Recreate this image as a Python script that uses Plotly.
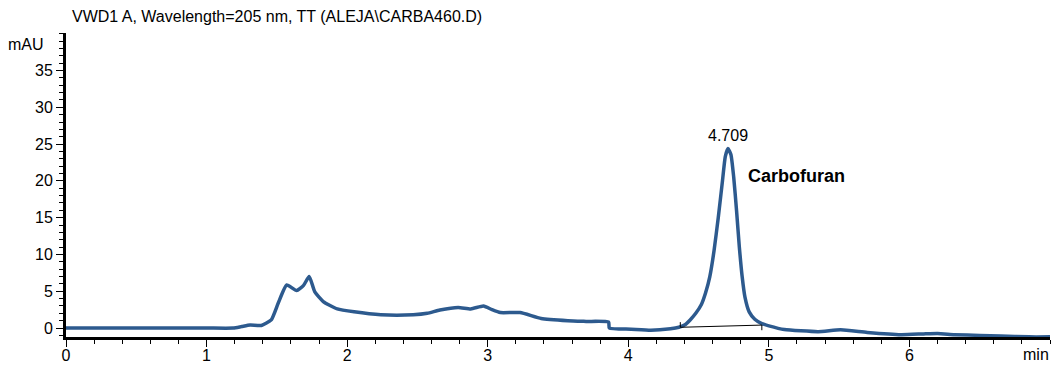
import plotly.graph_objects as go

# Retention time (min) and detector signal (mAU)
time_min = [0.00, 0.50, 1.00, 1.19, 1.25, 1.31, 1.39, 1.46, 1.51, 1.57, 1.64, 1.69, 1.73,
            1.77, 1.83, 1.93, 2.05, 2.24, 2.47, 2.57, 2.66, 2.79, 2.88, 2.97, 3.03, 3.09,
            3.23, 3.38, 3.57, 3.70, 3.86, 3.865, 4.02, 4.16, 4.30, 4.36, 4.40, 4.44, 4.48,
            4.52, 4.55, 4.58, 4.61, 4.64, 4.67, 4.69, 4.709, 4.73, 4.75, 4.77, 4.79, 4.81,
            4.83, 4.86, 4.90, 4.95, 5.00, 5.11, 5.35, 5.51, 5.70, 5.94, 6.10, 6.20, 6.32,
            6.50, 6.65, 6.85, 7.00]
signal_mau = [0.0, 0.0, 0.0, 0.0, 0.2, 0.4, 0.35, 1.1, 3.4, 5.85, 5.1, 5.8, 7.0,
              4.9, 3.6, 2.6, 2.2, 1.8, 1.8, 2.0, 2.45, 2.8, 2.6, 3.0, 2.5, 2.1,
              2.1, 1.3, 1.0, 0.9, 0.8, 0.0, -0.15, -0.3, -0.1, 0.1, 0.4, 1.1, 2.0,
              3.2, 4.8, 7.0, 10.5, 15.0, 20.0, 23.3, 24.4, 23.6, 20.5, 16.0, 11.0, 7.0,
              4.2, 2.2, 1.2, 0.6, 0.3, -0.2, -0.5, -0.25, -0.6, -0.9, -0.8, -0.75, -0.9,
              -1.0, -1.1, -1.2, -1.2]

# Integration baseline under the main peak
baseline_x = [4.37, 4.95]
baseline_y = [0.1, 0.4]

peak_rt = 4.709
peak_height = 24.4
compound = "Carbofuran"

x_ticks = [0, 1, 2, 3, 4, 5, 6]
y_ticks = [0, 5, 10, 15, 20, 25, 30, 35]

font_family = "Liberation Sans, Arial, sans-serif"
line_color = "#2d5a8e"

fig = go.Figure()

fig.add_trace(go.Scatter(
    x=time_min, y=signal_mau, mode="lines",
    line=dict(color=line_color, width=3.5, shape="spline", smoothing=0.5),
    hoverinfo="x+y", showlegend=False,
))

fig.add_trace(go.Scatter(
    x=baseline_x, y=baseline_y, mode="lines",
    line=dict(color="black", width=1), showlegend=False, hoverinfo="skip",
))
# small drop marks at the integration start and end
fig.add_trace(go.Scatter(
    x=[baseline_x[0], baseline_x[0], None, baseline_x[1], baseline_x[1]],
    y=[baseline_y[0], baseline_y[0] + 0.7, None, baseline_y[1], baseline_y[1] - 0.7],
    mode="lines", line=dict(color="black", width=1), showlegend=False, hoverinfo="skip",
))

fig.add_annotation(x=peak_rt, y=peak_height, text=f"{peak_rt:.3f}", showarrow=False,
                   xanchor="center", yanchor="bottom", yshift=3,
                   font=dict(size=16, color="black"))
fig.add_annotation(x=4.836, y=20.7, text=f"<b>{compound}</b>", showarrow=False,
                   xanchor="left", yanchor="middle", font=dict(size=18, color="black"))

fig.add_annotation(xref="paper", yref="paper", x=0.004, y=1.053,
                   xanchor="left", yanchor="middle",
                   text="VWD1 A, Wavelength=205 nm, TT (ALEJA\\CARBA460.D)",
                   showarrow=False, font=dict(size=16, color="black"))
fig.add_annotation(xref="paper", yref="paper", x=-0.0405, y=0.962,
                   xanchor="center", yanchor="middle",
                   text="mAU", showarrow=False, font=dict(size=16, color="black"))
fig.add_annotation(xref="paper", yref="paper", x=0.986, y=-0.056,
                   xanchor="center", yanchor="middle",
                   text="min", showarrow=False, font=dict(size=16, color="black"))

fig.update_layout(
    width=1063, height=365,
    margin=dict(l=66, r=13, t=33, b=28),
    paper_bgcolor="white", plot_bgcolor="white",
    font=dict(family=font_family, size=16, color="black"),
    showlegend=False,
    xaxis=dict(
        range=[0, 7.0], tickvals=x_ticks, showgrid=False, zeroline=False,
        showline=True, linecolor="black", linewidth=3, automargin=False,
        ticks="outside", ticklen=7, tickwidth=1, tickcolor="black",
        ticklabelstandoff=-5,
        minor=dict(dtick=0.2, tick0=0, ticks="outside", ticklen=4, tickcolor="black", tickwidth=1),
        tickfont=dict(size=16),
    ),
    yaxis=dict(
        range=[-1.22, 40.1], tickvals=y_ticks, showgrid=False, zeroline=False,
        showline=True, linecolor="black", linewidth=3, automargin=False,
        ticks="outside", ticklen=7, tickwidth=1, tickcolor="black",
        minor=dict(dtick=1, tick0=0, ticks="outside", ticklen=4, tickcolor="black", tickwidth=1),
        tickfont=dict(size=16),
    ),
)

fig.write_html("out.html")
